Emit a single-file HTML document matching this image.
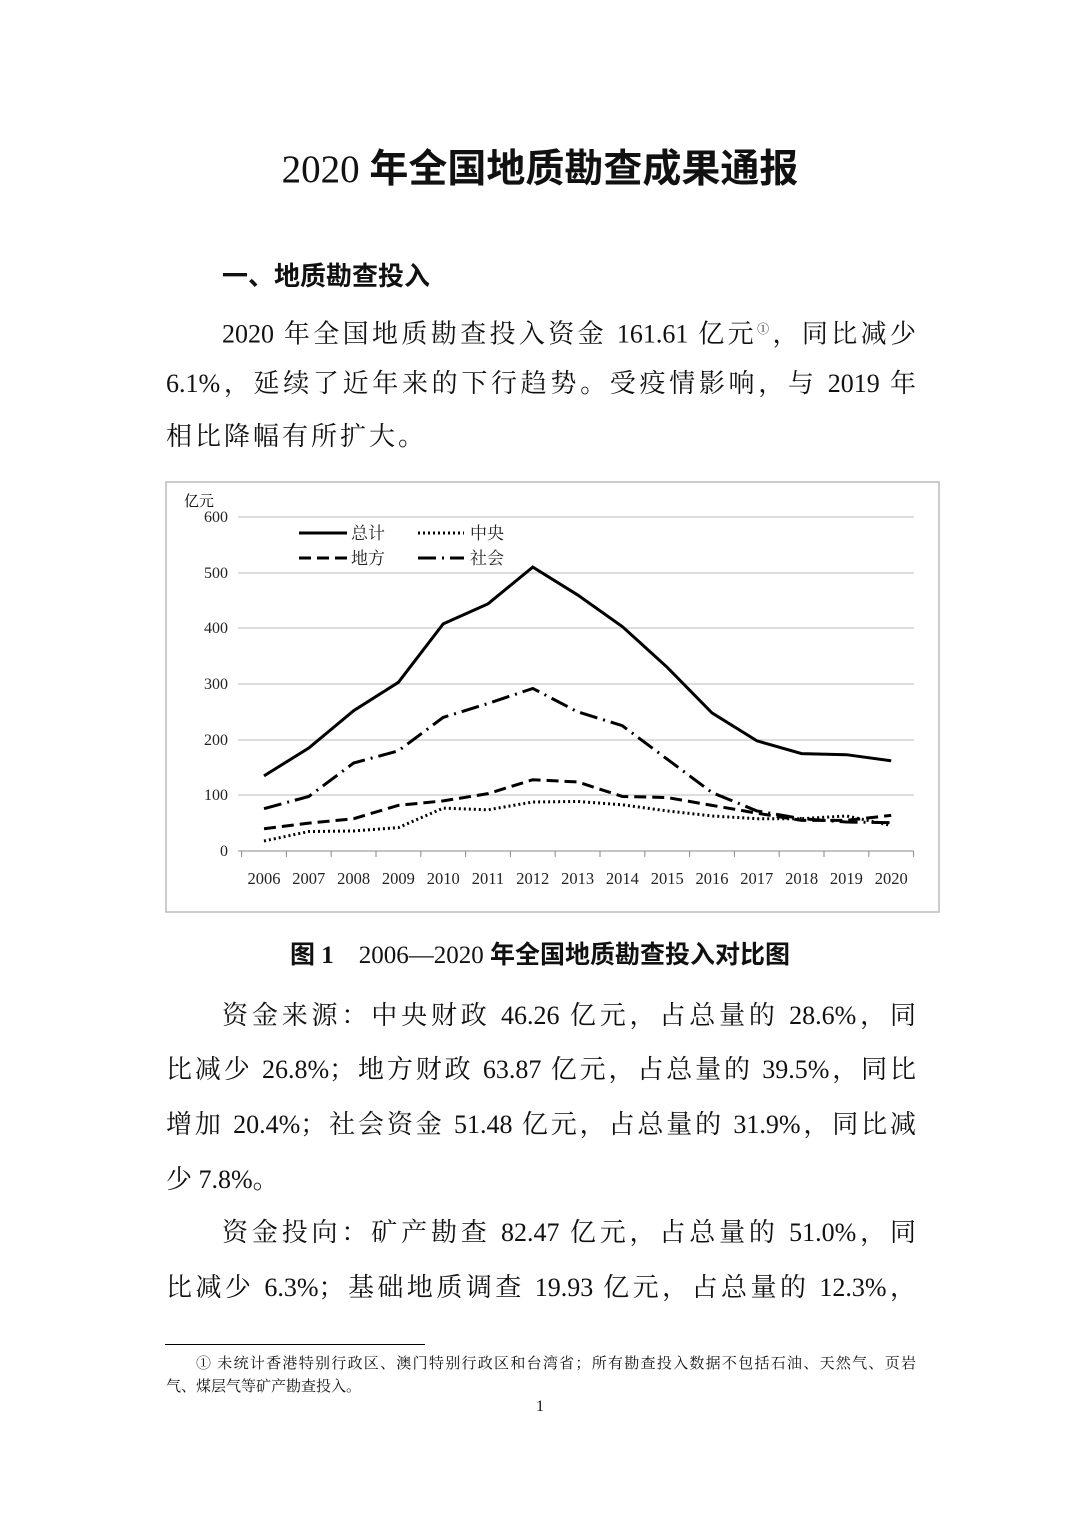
<!DOCTYPE html>
<html><head><meta charset="utf-8"><style>
body{margin:0;width:1080px;height:1527px;background:#fff;position:relative;overflow:hidden;font-family:"Liberation Serif","Noto Serif CJK SC",serif;color:#111}
.l{position:absolute;left:166px;width:750px;font-size:26px;line-height:34px;text-align:justify;text-align-last:justify;white-space:nowrap}
.l.i{left:222px;width:694px}
.n{text-align-last:left}
</style></head><body>
<div style="position:absolute;top:138px;left:0;width:1080px;text-align:center;font-size:39px;font-weight:bold;font-family:'Liberation Serif','Noto Sans CJK SC',sans-serif;"><span style="font-weight:normal">2020</span> 年全国地质勘查成果通报</div>
<div style="position:absolute;top:256px;left:222px;font-size:26px;font-weight:bold;font-family:'Liberation Sans','Noto Sans CJK SC',sans-serif;">一、地质勘查投入</div>
<div class="l i" style="top:312px">2020 年全国地质勘查投入资金 161.61 亿元<sup style="font-size:12px">①</sup>，同比减少</div>
<div class="l" style="top:367px">6.1%，延续了近年来的下行趋势。受疫情影响，与 2019 年</div>
<div class="l n" style="top:420px;letter-spacing:3px">相比降幅有所扩大。</div>

<svg style="position:absolute;left:0;top:0" width="1080" height="1527">
<rect x="166" y="482" width="773" height="430" fill="none" stroke="#bbb" stroke-width="1.5"/>
<g stroke="#bbb" stroke-width="1">
<line x1="238" y1="517" x2="914" y2="517"/><line x1="238" y1="573" x2="914" y2="573"/><line x1="238" y1="628" x2="914" y2="628"/><line x1="238" y1="684" x2="914" y2="684"/><line x1="238" y1="740" x2="914" y2="740"/><line x1="238" y1="795" x2="914" y2="795"/>
<line x1="238" y1="851" x2="914" y2="851" stroke="#888"/>
</g>
<g stroke="#888" stroke-width="1" id="t"></g>
<g font-size="16" fill="#222" text-anchor="end" font-family="Liberation Serif,serif">
<text x="228" y="522">600</text><text x="228" y="578">500</text><text x="228" y="633">400</text><text x="228" y="689">300</text><text x="228" y="745">200</text><text x="228" y="800">100</text><text x="228" y="856">0</text>
</g>
<text x="184" y="506" font-size="15" font-family="Noto Serif CJK SC,serif">亿元</text>
<g font-size="16.5" fill="#222" text-anchor="middle" font-family="Liberation Serif,serif" id="xl"></g>
<g fill="none" stroke="#000" stroke-width="3" id="lines"></g>
<g font-size="17" font-family="Noto Serif CJK SC,serif" fill="#222">
<line x1="299" y1="533" x2="347" y2="533" stroke="#000" stroke-width="3"/><text x="351" y="539">总计</text>
<line x1="418" y1="533" x2="464" y2="533" stroke="#000" stroke-width="3" stroke-dasharray="2,3"/><text x="470" y="539">中央</text>
<line x1="299" y1="558" x2="347" y2="558" stroke="#000" stroke-width="3" stroke-dasharray="12,6"/><text x="351" y="564">地方</text>
<line x1="418" y1="558" x2="464" y2="558" stroke="#000" stroke-width="3" stroke-dasharray="18,6,2,6"/><text x="470" y="564">社会</text>
</g>
</svg>
<script>
var X=i=>264+44.8*i,Y=v=>851-v*0.5567;
var d={s:[[135,185,252,303,408,444,510,460,403,330,248,198,175,173,162],""],
c:[[18,35,36,42,77,74,88,89,83,72,63,58,58,63,46],"2,3"],
l:[[40,50,58,82,90,103,128,124,98,96,82,68,55,55,64],"12,6"],
o:[[76,98,158,180,240,265,292,250,225,165,105,72,58,52,51],"18,6,2,6"]};
var ns="http://www.w3.org/2000/svg",g=document.getElementById("lines");
for(var k in d){var p=document.createElementNS(ns,"polyline");p.setAttribute("points",d[k][0].map((v,i)=>X(i)+","+Y(v)).join(" "));if(d[k][1])p.setAttribute("stroke-dasharray",d[k][1]);g.appendChild(p);}
var t=document.getElementById("t"),xl=document.getElementById("xl");
for(var i=0;i<=15;i++){var ln=document.createElementNS(ns,"line");var x=241.6+44.8*i;ln.setAttribute("x1",x);ln.setAttribute("x2",x);ln.setAttribute("y1",851);ln.setAttribute("y2",857);t.appendChild(ln);}
for(var i=0;i<15;i++){var tx=document.createElementNS(ns,"text");tx.setAttribute("x",X(i));tx.setAttribute("y",884);tx.textContent=2006+i;xl.appendChild(tx);}
</script>
<div style="position:absolute;top:935px;left:0;width:1080px;text-align:center;font-size:25px;font-weight:bold;font-family:'Liberation Serif','Noto Sans CJK SC',sans-serif;">图 1　<span style="font-weight:normal">2006—2020</span> 年全国地质勘查投入对比图</div>
<div class="l i" style="top:999px">资金来源：中央财政 46.26 亿元，占总量的 28.6%，同</div>
<div class="l" style="top:1053px">比减少 26.8%；地方财政 63.87 亿元，占总量的 39.5%，同比</div>
<div class="l" style="top:1108px">增加 20.4%；社会资金 51.48 亿元，占总量的 31.9%，同比减</div>
<div class="l n" style="top:1163px">少 7.8%。</div>
<div class="l i" style="top:1216px">资金投向：矿产勘查 82.47 亿元，占总量的 51.0%，同</div>
<div class="l" style="top:1271px">比减少 6.3%；基础地质调查 19.93 亿元，占总量的 12.3%，</div>
<div style="position:absolute;left:165px;top:1344px;width:260px;border-top:1.5px solid #000"></div>
<div style="position:absolute;left:196px;top:1353px;width:720px;font-size:15px;line-height:22px;text-align:justify;text-align-last:justify;white-space:nowrap">① 未统计香港特别行政区、澳门特别行政区和台湾省；所有勘查投入数据不包括石油、天然气、页岩</div>
<div style="position:absolute;left:166px;top:1376px;font-size:15px;line-height:22px">气、煤层气等矿产勘查投入。</div>
<div style="position:absolute;left:536px;top:1398px;font-size:16px">1</div>
</body></html>
